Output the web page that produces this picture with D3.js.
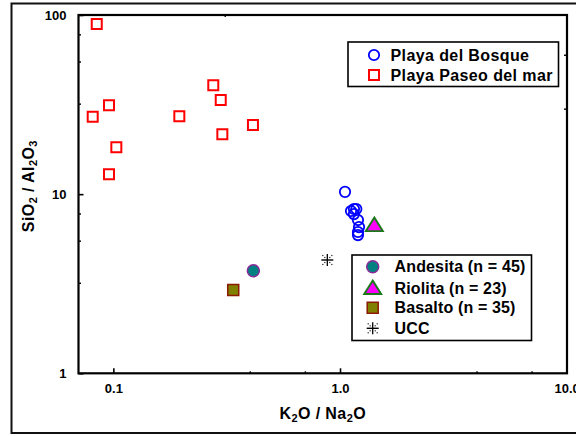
<!DOCTYPE html>
<html>
<head>
<meta charset="utf-8">
<script src="https://cdn.jsdelivr.net/npm/d3@7"></script>
<style>
  html, body { margin: 0; padding: 0; background: #fff; }
  svg text { font-family: "Liberation Sans", Arial, sans-serif; font-weight: bold; fill: #000; }
</style>
</head>
<body>
<svg id="chart" width="576" height="436"></svg>
<script>
// K2O/Na2O vs SiO2/Al2O3 ratios
const bosqueX = [1.052, 1.118, 1.152, 1.18, 1.152, 1.20, 1.213, 1.20, 1.20];
const bosqueY = [10.3, 8.05, 8.26, 8.26, 7.74, 7.17, 6.55, 6.15, 5.91];

const paseoX = [0.0845, 0.0957, 0.0811, 0.1031, 0.0957, 0.1955, 0.276, 0.2977, 0.3026, 0.413];
const paseoY = [89.0, 31.4, 27.0, 18.3, 12.9, 27.2, 40.5, 33.5, 21.6, 24.3];

// Reference compositions
const refNames = ["Andesita (n = 45)", "Riolita (n = 23)", "Basalto (n = 35)", "UCC"];
const refKeys = ["andesita", "riolita", "basalto", "ucc"];
const refX = [0.4146, 1.417, 0.338, 0.879];
const refY = [3.74, 6.72, 2.92, 4.29];

const seriesNames = ["Playa del Bosque", "Playa Paseo del mar"];

// Axis ticks
const xMajor = [0.1, 1, 10];
const xMajorLabels = ["0.1", "1.0", "10.0"];
const xMinor = [0.4, 0.7, 4, 7];
const xTopMinor = [0.31];
const yMajor = [1, 10, 100];
const yMajorLabels = ["1", "10", "100"];
const yMinor = [3.2, 5.5, 7.8, 32, 55, 78];
const yRightMinor = [30, 60];

const svg = d3.select("#chart");

const plot = { left: 78.5, right: 567, top: 15, bottom: 373.3 };

const x = d3.scaleLog().domain([0.0702, 10]).range([plot.left, 566.7]);
const y = d3.scaleLog().domain([1, 100]).range([plot.bottom, plot.top]);

const LS = 0.4; // letter spacing for labels

// Outer figure frame
svg.append("rect")
  .attr("x", 11.5).attr("y", 3.5)
  .attr("width", 600).attr("height", 429.5)
  .attr("fill", "none").attr("stroke", "#111").attr("stroke-width", 2);

// Plot frame
svg.append("rect")
  .attr("x", plot.left).attr("y", plot.top)
  .attr("width", plot.right - plot.left).attr("height", plot.bottom - plot.top)
  .attr("fill", "none").attr("stroke", "#000").attr("stroke-width", 2.2);

// Bottom axis
const bottomAxis = d3.axisBottom(x).tickValues(xMajor)
  .tickFormat((d, i) => xMajorLabels[i]).tickSizeInner(-5).tickSizeOuter(0).tickPadding(10);
const gx = svg.append("g").attr("transform", `translate(0,${plot.bottom})`).call(bottomAxis);
gx.select(".domain").remove();
gx.selectAll(".tick line").attr("stroke", "#000").attr("stroke-width", 1.6);
gx.selectAll("text").attr("font-size", 13).attr("font-family", "Liberation Sans, Arial, sans-serif").attr("font-weight", "bold");

const gxMinor = d3.axisBottom(x).tickValues(xMinor).tickSizeInner(-2).tickSizeOuter(0).tickFormat("");
const gxm = svg.append("g").attr("transform", `translate(0,${plot.bottom})`).call(gxMinor);
gxm.select(".domain").remove();
gxm.selectAll(".tick line").attr("stroke", "#000").attr("stroke-width", 1.4);

const gxt = svg.append("g").attr("transform", `translate(0,${plot.top})`)
  .call(d3.axisTop(x).tickValues(xTopMinor).tickSizeInner(-2).tickSizeOuter(0).tickFormat(""));
gxt.select(".domain").remove();
gxt.selectAll(".tick line").attr("stroke", "#000").attr("stroke-width", 1.4);

// Left axis
const leftAxis = d3.axisLeft(y).tickValues(yMajor)
  .tickFormat((d, i) => yMajorLabels[i]).tickSizeInner(-5).tickSizeOuter(0).tickPadding(12);
const gy = svg.append("g").attr("transform", `translate(${plot.left},0)`).call(leftAxis);
gy.select(".domain").remove();
gy.selectAll(".tick line").attr("stroke", "#000").attr("stroke-width", 1.6);
gy.selectAll("text").attr("font-size", 13).attr("font-family", "Liberation Sans, Arial, sans-serif").attr("font-weight", "bold");

const gym = svg.append("g").attr("transform", `translate(${plot.left},0)`)
  .call(d3.axisLeft(y).tickValues(yMinor).tickSizeInner(-2.5).tickSizeOuter(0).tickFormat(""));
gym.select(".domain").remove();
gym.selectAll(".tick line").attr("stroke", "#000").attr("stroke-width", 1.4);

const gyr = svg.append("g").attr("transform", `translate(${plot.right},0)`)
  .call(d3.axisRight(y).tickValues(yRightMinor).tickSizeInner(-3).tickSizeOuter(0).tickFormat(""));
gyr.select(".domain").remove();
gyr.selectAll(".tick line").attr("stroke", "#000").attr("stroke-width", 1.4);

// Axis titles
const xTitle = svg.append("text")
  .attr("x", (plot.left + plot.right) / 2).attr("y", 418.5)
  .attr("text-anchor", "middle").attr("font-size", 16).attr("letter-spacing", LS);
xTitle.append("tspan").text("K");
xTitle.append("tspan").text("2").attr("font-size", 11).attr("dy", 3);
xTitle.append("tspan").text("O / Na").attr("dy", -3);
xTitle.append("tspan").text("2").attr("font-size", 11).attr("dy", 3);
xTitle.append("tspan").text("O").attr("dy", -3);

const yTitle = svg.append("text")
  .attr("transform", `translate(34,${(plot.top + plot.bottom) / 2 - 8}) rotate(-90)`)
  .attr("text-anchor", "middle").attr("font-size", 16).attr("letter-spacing", LS);
yTitle.append("tspan").text("SiO");
yTitle.append("tspan").text("2").attr("font-size", 11).attr("dy", 3);
yTitle.append("tspan").text(" / Al").attr("dy", -3);
yTitle.append("tspan").text("2").attr("font-size", 11).attr("dy", 3);
yTitle.append("tspan").text("O").attr("dy", -3);
yTitle.append("tspan").text("3").attr("font-size", 11).attr("dy", 3);

// Marker drawing helpers
const squarePath = d3.symbol().type(d3.symbolSquare).size(100);
const circlePath = d3.symbol().type(d3.symbolCircle).size(Math.PI * 27);
const trianglePath = d3.symbol().type(d3.symbolTriangle).size(80);
const filledCirclePath = d3.symbol().type(d3.symbolCircle).size(Math.PI * 36);
const filledSquarePath = d3.symbol().type(d3.symbolSquare).size(121);

function drawRef(g, key) {
  if (key === "andesita") {
    g.append("path").attr("d", filledCirclePath()).attr("fill", "#008080").attr("stroke", "#8a2a9a").attr("stroke-width", 1.5);
  } else if (key === "riolita") {
    g.append("path").attr("d", trianglePath()).attr("transform", "translate(0,1.5) scale(1.25,1.15)")
      .attr("fill", "#ff00ff").attr("stroke", "#1a7a1a").attr("stroke-width", 1.6);
  } else if (key === "basalto") {
    g.append("path").attr("d", filledSquarePath()).attr("fill", "#808000").attr("stroke", "#8b1a00").attr("stroke-width", 1.5);
  } else {
    // asterisk-like cross with dotted diagonals
    g.append("line").attr("x1", -6).attr("x2", 6).attr("y1", 0).attr("y2", 0).attr("stroke", "#000").attr("stroke-width", 1.4);
    g.append("line").attr("x1", 0).attr("x2", 0).attr("y1", -6).attr("y2", 6).attr("stroke", "#000").attr("stroke-width", 1.3);
    [[-4.5, -4.5], [4.5, -4.5], [-4.5, 4.5], [4.5, 4.5], [-2.5, -2.5], [2.5, -2.5], [-2.5, 2.5], [2.5, 2.5]].forEach(p => {
      g.append("rect").attr("x", p[0] - 0.6).attr("y", p[1] - 0.6).attr("width", 1.2).attr("height", 1.2).attr("fill", "#222");
    });
  }
}

// Playa Paseo del mar
svg.append("g").selectAll("path").data(d3.range(paseoX.length)).join("path")
  .attr("d", squarePath())
  .attr("transform", i => `translate(${x(paseoX[i])},${y(paseoY[i])})`)
  .attr("fill", "none").attr("stroke", "#ff0000").attr("stroke-width", 2);

// Playa del Bosque
svg.append("g").selectAll("path").data(d3.range(bosqueX.length)).join("path")
  .attr("d", circlePath())
  .attr("transform", i => `translate(${x(bosqueX[i])},${y(bosqueY[i])})`)
  .attr("fill", "none").attr("stroke", "#0000ff").attr("stroke-width", 1.8);

// Reference points
refKeys.forEach((k, i) => {
  const g = svg.append("g").attr("transform", `translate(${x(refX[i])},${y(refY[i])})`);
  drawRef(g, k);
});

// Legend: sample sites
const leg1 = svg.append("g");
leg1.append("rect").attr("x", 348).attr("y", 42).attr("width", 210.5).attr("height", 44.5)
  .attr("fill", "#fff").attr("stroke", "#000").attr("stroke-width", 1.6);
seriesNames.forEach((name, i) => {
  const cy = 55 + i * 20;
  const g = leg1.append("g").attr("transform", `translate(374,${cy})`);
  if (i === 0) g.append("path").attr("d", circlePath()).attr("fill", "none").attr("stroke", "#0000ff").attr("stroke-width", 1.8);
  else g.append("path").attr("d", squarePath()).attr("fill", "none").attr("stroke", "#ff0000").attr("stroke-width", 2);
  leg1.append("text").attr("x", 390.5).attr("y", cy + 5.5).attr("font-size", 16).attr("letter-spacing", LS).text(name);
});

// Legend: reference rocks
const leg2 = svg.append("g");
leg2.append("rect").attr("x", 352).attr("y", 255).attr("width", 179.5).attr("height", 85.5)
  .attr("fill", "#fff").attr("stroke", "#000").attr("stroke-width", 1.6);
const legRows = [266.7, 288, 307.7, 328.3];
refKeys.forEach((k, i) => {
  const g = leg2.append("g").attr("transform", `translate(372.7,${legRows[i]})`);
  drawRef(g, k);
  leg2.append("text").attr("x", 394.5).attr("y", legRows[i] + 5.5).attr("font-size", 16).attr("letter-spacing", 0.15).text(refNames[i]);
});
</script>
</body>
</html>
